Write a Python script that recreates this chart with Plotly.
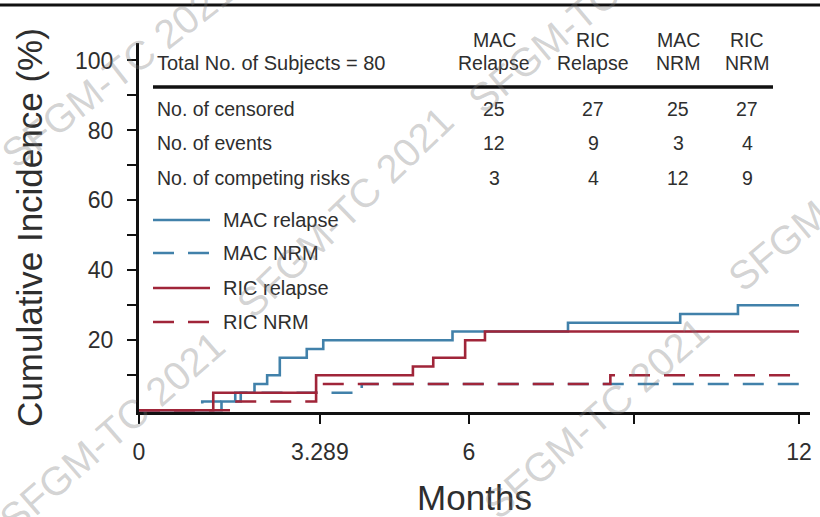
import plotly.graph_objects as go

# ---- curve data (months, cumulative incidence %) ----
mac_relapse_t = [0, 1.5, 1.75, 2.1, 2.33, 2.56, 3.05, 3.35, 5.70, 7.80, 9.84, 10.89, 12]
mac_relapse_y = [0, 2.5, 5, 7.5, 10, 15, 17.5, 20, 22.5, 25, 27.5, 30, 30]

mac_nrm_t = [0, 1.15, 1.85, 4.05, 12]
mac_nrm_y = [0, 2.5, 5, 7.5, 7.5]

ric_relapse_t = [0, 1.35, 3.22, 4.98, 5.35, 5.93, 6.29, 12]
ric_relapse_y = [0, 5, 10, 12.5, 15, 20, 22.5, 22.5]

ric_nrm_t = [0, 1.75, 3.22, 8.57, 12]
ric_nrm_y = [0, 2.5, 7.5, 10, 10]

series_names = ["MAC relapse", "MAC NRM", "RIC relapse", "RIC NRM"]

# ---- summary table ----
total_label = "Total No. of Subjects = 80"
col_top = ["MAC", "RIC", "MAC", "RIC"]
col_bottom = ["Relapse", "Relapse", "NRM", "NRM"]
row_labels = ["No. of censored", "No. of events", "No. of competing risks"]
censored = [25, 27, 25, 27]
events = [12, 9, 3, 4]
competing = [3, 4, 12, 9]

# ---- axis ticks ----
x_tickvals = [0, 3.289, 6, 9, 12]
x_ticktext = ["0", "3.289", "6", "", "12"]
y_tickvals = [10, 20, 30, 40, 50, 60, 70, 80, 90, 100]
y_ticktext = ["", "20", "", "40", "", "60", "", "80", "", "100"]

watermark = "SFGM-TC 2021"

BLUE = "#4181aa"
RED = "#a02539"
TXT = "#2e2e2e"
FONT = "Liberation Sans, Arial, sans-serif"
DASH = "21px,14px"

W, H = 820, 517
L, R, T, B = 139, 10, 43, 105
PW, PH = W - L - R, H - T - B


def xp(px):
    return (px - L) / PW


def yp(py):
    return (H - B - py) / PH


fig = go.Figure()

styles = [
    (mac_relapse_t, mac_relapse_y, BLUE, "solid"),
    (mac_nrm_t, mac_nrm_y, BLUE, DASH),
    (ric_relapse_t, ric_relapse_y, RED, "solid"),
    (ric_nrm_t, ric_nrm_y, RED, DASH),
]
for name, (t, y, c, d) in zip(series_names, styles):
    fig.add_trace(go.Scatter(
        x=t, y=y, mode="lines", name=name,
        line=dict(color=c, width=2.6, dash=d, shape="hv"),
        showlegend=False, hoverinfo="skip",
    ))

annotations = []
shapes = []

# table header
annotations.append(dict(x=xp(155), y=yp(63), xref="paper", yref="paper",
                        text=total_label, showarrow=False, xanchor="left",
                        yanchor="middle", font=dict(size=20, color=TXT, family=FONT)))
col_x = [494, 593, 678, 747]
for cx, top, bot in zip(col_x, col_top, col_bottom):
    annotations.append(dict(x=xp(cx), y=yp(40), xref="paper", yref="paper", text=top,
                            showarrow=False, xanchor="center", yanchor="middle",
                            font=dict(size=19.5, color=TXT, family=FONT)))
    annotations.append(dict(x=xp(cx), y=yp(63), xref="paper", yref="paper", text=bot,
                            showarrow=False, xanchor="center", yanchor="middle",
                            font=dict(size=19.5, color=TXT, family=FONT)))
shapes.append(dict(type="line", xref="paper", yref="paper",
                   x0=xp(153), x1=xp(773), y0=yp(87), y1=yp(87),
                   line=dict(color="#111111", width=3.5)))

row_y = [109, 143, 178]
for ry, lab, vals in zip(row_y, row_labels, [censored, events, competing]):
    annotations.append(dict(x=xp(155), y=yp(ry), xref="paper", yref="paper", text=lab,
                            showarrow=False, xanchor="left", yanchor="middle",
                            font=dict(size=19.5, color=TXT, family=FONT)))
    for cx, v in zip(col_x, vals):
        annotations.append(dict(x=xp(cx), y=yp(ry), xref="paper", yref="paper", text=str(v),
                                showarrow=False, xanchor="center", yanchor="middle",
                                font=dict(size=19.5, color=TXT, family=FONT)))

# legend keys
leg_y = [220, 253, 288, 322]
for ly, name, (_, _, c, d) in zip(leg_y, series_names, styles):
    shapes.append(dict(type="line", xref="paper", yref="paper",
                       x0=xp(153), x1=xp(210), y0=yp(ly), y1=yp(ly),
                       line=dict(color=c, width=2.6, dash=d)))
    annotations.append(dict(x=xp(221), y=yp(ly), xref="paper", yref="paper", text=name,
                            showarrow=False, xanchor="left", yanchor="middle",
                            font=dict(size=20, color=TXT, family=FONT)))

# rule across the top of the figure
shapes.append(dict(type="line", xref="paper", yref="paper",
                   x0=xp(0), x1=xp(W), y0=yp(5), y1=yp(5),
                   line=dict(color="#111111", width=3)))

# watermark stamps
marks = [(118, 72, -38), (345, 212, -44), (582, 14, -40), (842, 192, -40),
         (112, 432, -41), (596, 418, -41)]
for cx, cy, ang in marks:
    annotations.append(dict(x=xp(cx), y=yp(cy), xref="paper", yref="paper",
                            text=watermark, showarrow=False, textangle=ang,
                            xanchor="center", yanchor="middle",
                            font=dict(size=40, color="rgba(120,120,120,0.32)", family=FONT)))

fig.update_layout(
    width=W, height=H,
    margin=dict(l=L, r=R, t=T, b=B),
    paper_bgcolor="white", plot_bgcolor="white",
    font=dict(family=FONT, color=TXT),
    annotations=annotations, shapes=shapes,
    xaxis=dict(
        range=[0, 12.2], showgrid=False, zeroline=False, automargin=False,
        showline=True, linecolor="#111111", linewidth=3,
        tickmode="array", tickvals=x_tickvals, ticktext=x_ticktext,
        ticks="outside", ticklen=9, tickwidth=2, tickcolor="#111111",
        tickfont=dict(size=23, color=TXT), ticklabelstandoff=8,
        title=dict(text="Months", font=dict(size=35, color=TXT), standoff=25),
    ),
    yaxis=dict(
        range=[-0.5, 105], showgrid=False, zeroline=False, automargin=False,
        showline=True, linecolor="#111111", linewidth=3,
        tickmode="array", tickvals=y_tickvals, ticktext=y_ticktext,
        ticks="outside", ticklen=9, tickwidth=2, tickcolor="#111111",
        tickfont=dict(size=23, color=TXT), ticklabelstandoff=9,
        title=dict(text="Cumulative Incidence (%)", font=dict(size=35, color=TXT), standoff=22),
    ),
)

fig.write_html("out.html")
